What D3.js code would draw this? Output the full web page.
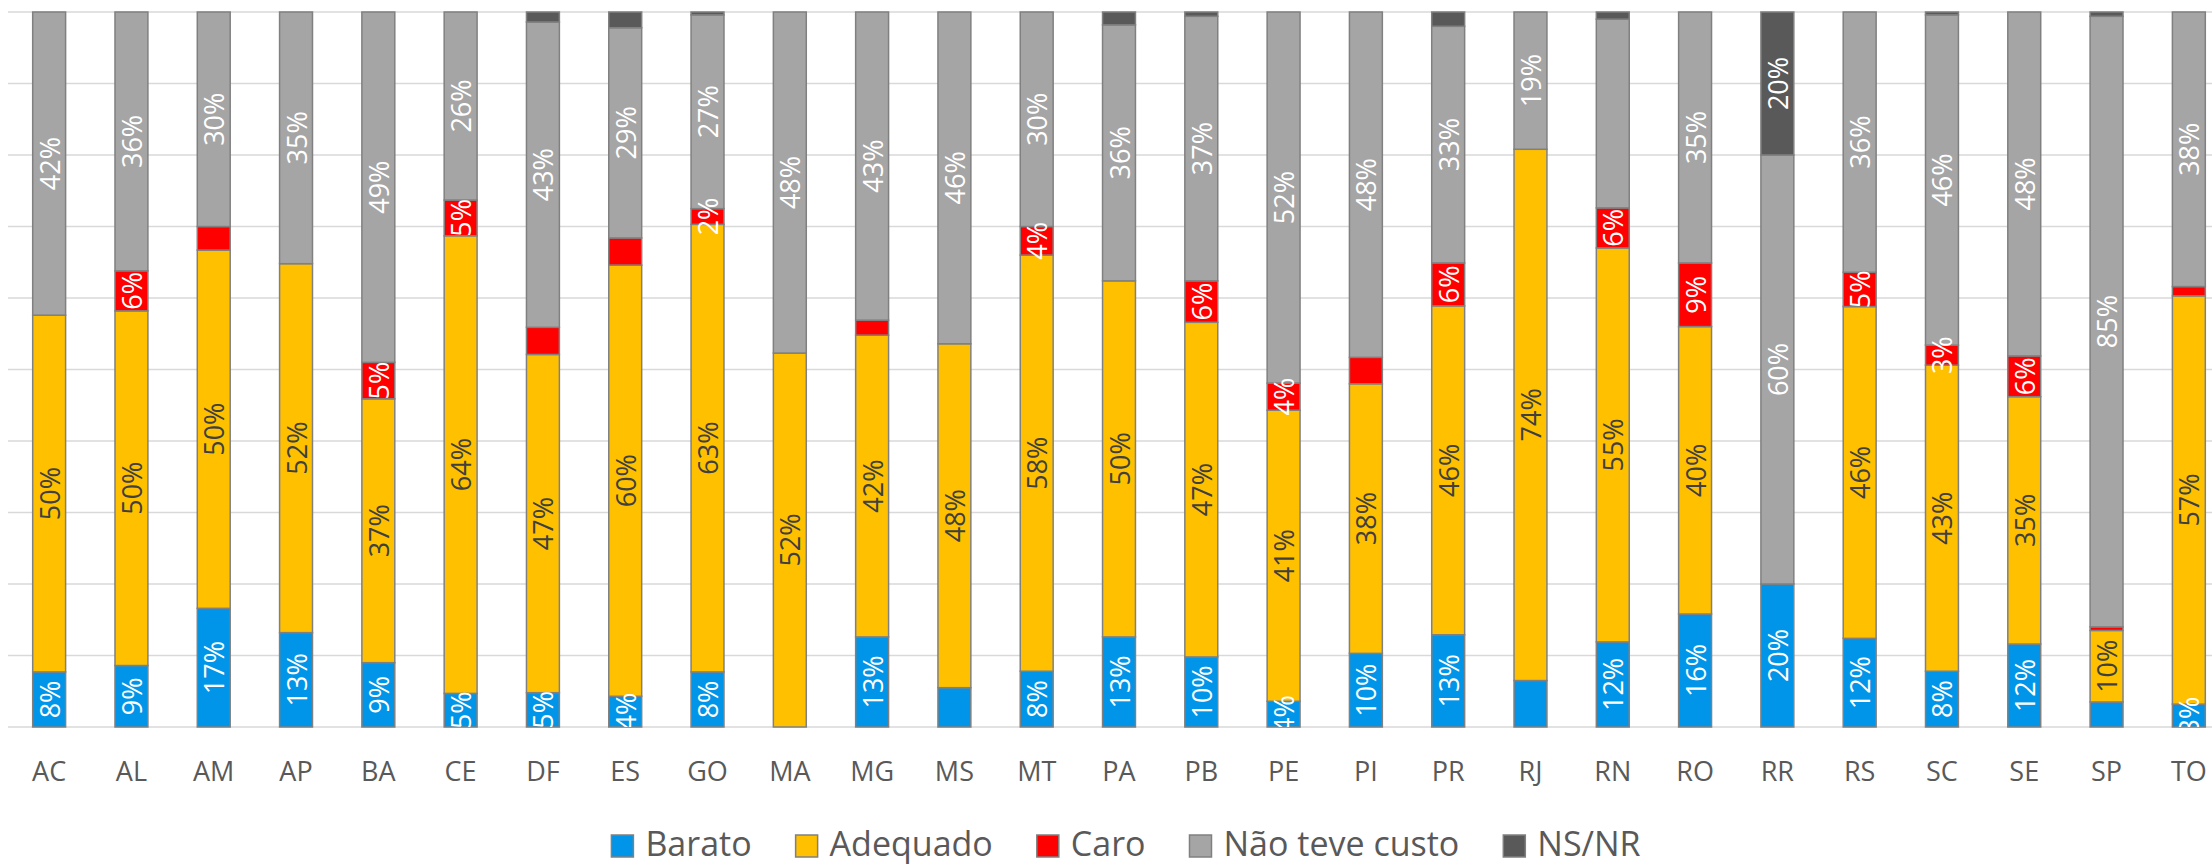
<!DOCTYPE html>
<html>
<head>
<meta charset="utf-8">
<script src="https://cdn.jsdelivr.net/npm/d3@7"></script>
<style>
  html, body { margin: 0; padding: 0; background: #ffffff; }
  svg { display: block; }
</style>
</head>
<body>
<svg id="chart" width="2212" height="868"></svg>
<script>
// ---- Data (percent values) ----
const states = ["AC","AL","AM","AP","BA","CE","DF","ES","GO","MA","MG","MS","MT","PA","PB","PE","PI","PR","RJ","RN","RO","RR","RS","SC","SE","SP","TO"];
const barato   = [7.7, 8.6, 16.6, 13.2, 9.0, 4.7, 4.8, 4.3, 7.7, 0, 12.6, 5.5, 7.8, 12.6, 9.8, 3.6, 10.3, 12.9, 6.5, 11.9, 15.8, 20.0, 12.4, 7.8, 11.6, 3.5, 3.2];
const adequado = [49.9, 49.6, 50.1, 51.6, 36.9, 64.0, 47.3, 60.3, 62.6, 52.3, 42.2, 48.1, 58.2, 49.8, 46.8, 40.7, 37.7, 46.0, 74.3, 55.1, 40.2, 0, 46.4, 42.8, 34.6, 10.0, 57.1];
const caro     = [0, 5.6, 3.3, 0, 5.1, 5.0, 3.8, 3.8, 2.2, 0, 2.1, 0, 4.0, 0, 5.8, 3.8, 3.7, 6.0, 0, 5.6, 8.9, 0, 4.8, 2.8, 5.7, 0.5, 1.3];
const naoTeve  = [42.4, 36.2, 30.0, 35.2, 49.0, 26.3, 42.7, 29.4, 27.1, 47.7, 43.1, 46.4, 30.0, 35.8, 37.0, 51.9, 48.3, 33.1, 19.2, 26.4, 35.1, 60.0, 36.4, 46.2, 48.1, 85.4, 38.4];
const nsnr     = [0, 0, 0, 0, 0, 0, 1.4, 2.2, 0.4, 0, 0, 0, 0, 1.8, 0.6, 0, 0, 2.0, 0, 1.0, 0, 20.0, 0, 0.4, 0, 0.6, 0];

const seriesKeys  = ["barato","adequado","caro","naoTeve","nsnr"];
const seriesNames = ["Barato","Adequado","Caro","Não teve custo","NS/NR"];
const yTicks = [0, 0.1, 0.2, 0.3, 0.4, 0.5, 0.6, 0.7, 0.8, 0.9, 1.0];
// data labels not shown in the reference
const hiddenLabels = ["AM|caro","DF|caro","ES|caro","MG|caro","MS|barato","PI|caro","RJ|barato","RN|naoTeve","SP|barato","SP|caro","TO|caro",
  "DF|nsnr","ES|nsnr","GO|nsnr","PA|nsnr","PB|nsnr","PR|nsnr","RN|nsnr","SC|nsnr","SP|nsnr"];

// ---- Styles ----
const colors = {barato:"#0095E8", adequado:"#FFC000", caro:"#FF0000", naoTeve:"#A5A5A5", nsnr:"#595959"};
const labelColors = {barato:"#ffffff", adequado:"#404040", caro:"#ffffff", naoTeve:"#ffffff", nsnr:"#ffffff"};
const FONT = "'Open Sans', 'DejaVu Sans', sans-serif";

const table = states.map((s, i) => ({state: s, barato: barato[i], adequado: adequado[i], caro: caro[i], naoTeve: naoTeve[i], nsnr: nsnr[i]}));
const stacked = d3.stack().keys(seriesKeys).offset(d3.stackOffsetExpand)(table);

const plot = {left: 8, right: 2230, top: 12, bottom: 727};
const svg = d3.select("#chart");

const x = d3.scaleBand().domain(states).range([plot.left, plot.right]).paddingInner(0.6).paddingOuter(0.3);
const y = d3.scaleLinear().domain([0, 1]).range([plot.bottom, plot.top]);

// clip for labels (labels are cut at the plot area, as in the reference)
svg.append("defs").append("clipPath").attr("id", "plotclip")
  .append("rect").attr("x", plot.left).attr("y", plot.top).attr("width", 2212 - plot.left).attr("height", plot.bottom - plot.top);

// gridlines
svg.append("g").selectAll("line").data(yTicks).join("line")
  .attr("x1", plot.left).attr("x2", 2212)
  .attr("y1", d => y(d)).attr("y2", d => y(d))
  .attr("stroke", "#d9d9d9").attr("stroke-width", 1.5);

// bars
const layers = svg.append("g").selectAll("g").data(stacked).join("g")
  .attr("fill", d => colors[d.key]);
layers.selectAll("rect").data(d => d.filter(p => p[1] - p[0] > 0)).join("rect")
  .attr("x", d => x(d.data.state))
  .attr("width", x.bandwidth())
  .attr("y", d => y(d[1]))
  .attr("height", d => y(d[0]) - y(d[1]))
  .attr("stroke", "#808080").attr("stroke-width", 1.5);

// data labels
const labelsG = svg.append("g").attr("clip-path", "url(#plotclip)");
stacked.forEach(layer => {
  const key = layer.key;
  layer.forEach((p, i) => {
    const v = table[i][key];
    if (!(v > 0)) return;
    if (hiddenLabels.includes(states[i] + "|" + key)) return;
    const cx = x(states[i]) + x.bandwidth() / 2;
    const cy = (y(p[0]) + y(p[1])) / 2;
    labelsG.append("text")
      .attr("transform", `translate(${cx},${cy}) rotate(-90)`)
      .attr("text-anchor", "middle")
      .attr("dominant-baseline", "central")
      .attr("font-family", FONT).attr("font-size", 27)
      .attr("fill", labelColors[key])
      .text(d3.format(".0f")(v) + "%");
  });
});

// x axis labels
svg.append("g").selectAll("text").data(states).join("text")
  .attr("x", d => x(d) + x.bandwidth() / 2)
  .attr("y", 770)
  .attr("text-anchor", "middle").attr("dominant-baseline", "central")
  .attr("font-family", FONT).attr("font-size", 27).attr("fill", "#595959")
  .text(d => d);

// legend
const legend = svg.append("g");
const sq = 22, gapText = 12, gapItem = 44, fs = 34;
let cursor = 0;
seriesKeys.forEach((k, i) => {
  const g = legend.append("g");
  g.append("rect").attr("x", 0).attr("y", -sq + 1).attr("width", sq).attr("height", sq)
    .attr("fill", colors[k]).attr("stroke", "#808080").attr("stroke-width", 1.5);
  const t = g.append("text").attr("x", sq + gapText).attr("y", 0)
    .attr("font-family", FONT).attr("font-size", fs).attr("fill", "#595959")
    .text(seriesNames[i]);
  const w = sq + gapText + t.node().getComputedTextLength();
  g.attr("transform", `translate(${cursor},0)`);
  cursor += w + gapItem;
});
const totalW = cursor - gapItem;
legend.attr("transform", `translate(${1126 - totalW / 2},856)`);
</script>
</body>
</html>
